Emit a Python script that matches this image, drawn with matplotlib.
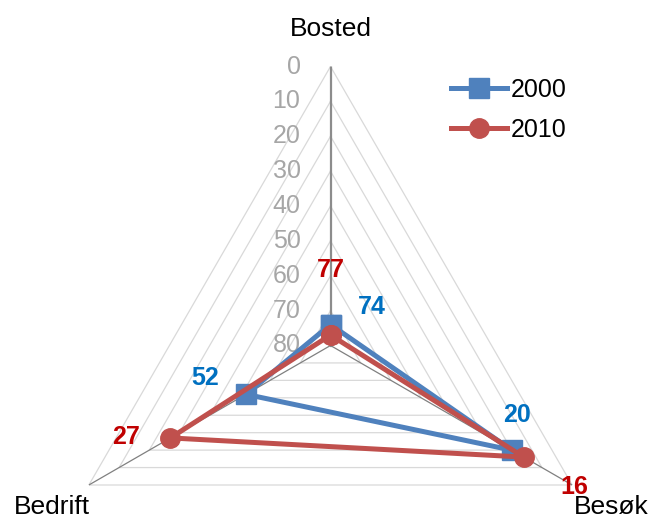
import numpy as np
import matplotlib
matplotlib.use('Agg')
import matplotlib.pyplot as plt

plt.rcParams['font.family'] = ['Liberation Sans', 'DejaVu Sans']

# data
categories = ['Bosted', 'Besøk', 'Bedrift']
series_names = ['2000', '2010']
values_2000 = [74, 20, 52]
values_2010 = [77, 16, 27]
levels = [0, 10, 20, 30, 40, 50, 60, 70, 80]

line_colors = ['#4f81bd', '#c0504d']
label_colors = ['#0070c0', '#c00000']

fig = plt.figure(figsize=(6.5, 5.22), dpi=100)
# polar axes centred on the triangle centre (330.5, 345.5 px), radius 279 px
ax = fig.add_axes([(330.5 - 279) / 650, (522 - 345.5 - 279) / 522, 558 / 650, 558 / 522],
                  projection='polar')
ax.set_theta_offset(np.pi / 2)
ax.set_theta_direction(-1)
ax.set_ylim(80, 0)  # reversed: 0 outside, 80 in the centre
ax.grid(False)
ax.spines['polar'].set_visible(False)
ax.set_xticks([])
ax.set_yticks([])
ax.patch.set_alpha(0)

angles = np.linspace(0, 2 * np.pi, len(categories), endpoint=False)
closed = np.append(angles, angles[0])

# triangular grid
for lv in levels[:-1]:
    ax.plot(closed, [lv] * len(closed), color='#d9d9d9', lw=0.9, zorder=1)

# spokes
for i, a in enumerate(angles):
    if i == 0:
        ax.plot([a, a], [levels[-1], levels[0]], color='#8c8c8c', lw=1.6, zorder=2)
    else:
        ax.plot([a, a], [levels[-1], levels[0]], color='#808080', lw=0.9, zorder=2)

# radial tick labels
for lv in levels:
    ax.annotate(str(lv), xy=(0, lv), xytext=(-30, 0), textcoords='offset pixels',
                ha='right', va='center', fontsize=18, color='#a6a6a6', zorder=3)

# category labels
cat_offsets = [(0, 38), (39, -22), (-37, -22)]
for a, name, off in zip(angles, categories, cat_offsets):
    ax.annotate(name, xy=(a, 0), xytext=off, textcoords='offset pixels',
                ha='center', va='center', fontsize=19, color='black',
                annotation_clip=False)

# series
all_values = [values_2000, values_2010]
markers = ['s', 'o']
handles = []
for vals, name, col, mk in zip(all_values, series_names, line_colors, markers):
    h, = ax.plot(closed, vals + vals[:1], color=col, lw=3.6, marker=mk,
                 markersize=14, label=name, zorder=5, clip_on=False)
    handles.append(h)

# data labels
label_offsets = [
    [(41, 18), (5, 35), (-41, 16)],
    [(0, 65), (51, -30), (-44, 1)],
]
for vals, col, offs in zip(all_values, label_colors, label_offsets):
    for a, v, off in zip(angles, vals, offs):
        ax.annotate(str(v), xy=(a, v), xytext=off, textcoords='offset pixels',
                    ha='center', va='center', fontsize=18, fontweight='bold',
                    color=col, zorder=6, annotation_clip=False)

fig.legend(handles=handles, loc='upper left',
           bbox_to_anchor=(451 / 650, 1 - 78 / 522), frameon=False,
           fontsize=18, handlelength=2.25, handletextpad=0.15,
           labelspacing=0.64, borderpad=0, borderaxespad=0)

fig.savefig('out.png', dpi=100)
